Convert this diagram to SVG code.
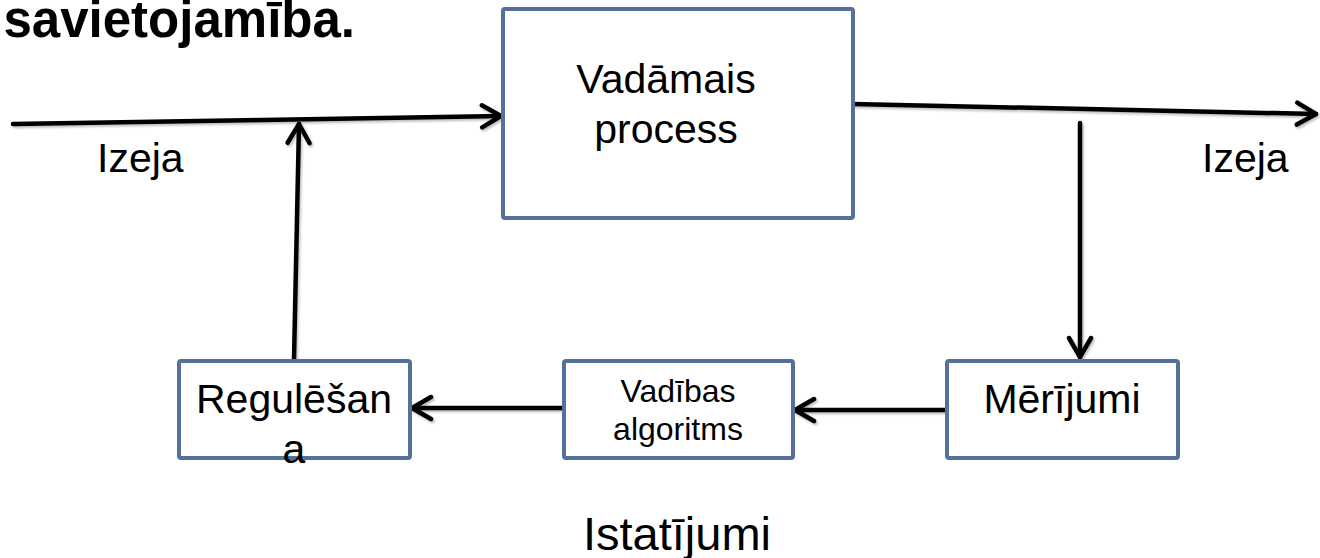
<svg xmlns="http://www.w3.org/2000/svg" width="1320" height="558" viewBox="0 0 1320 558">
<style>
.box{fill:#ffffff;stroke:#557199;stroke-width:4}
.t{font-family:"Liberation Sans",Arial,sans-serif;fill:#000}
.big{font-size:41px}
.small{font-size:32px}
.ln{stroke:#000;stroke-width:4.5;fill:none;stroke-linecap:round}
</style>
<defs>
<marker id="arr" markerUnits="userSpaceOnUse" viewBox="-24 -14 28 28" refX="0" refY="0" markerWidth="28" markerHeight="28" orient="auto">
<polyline points="-19,-11 0,0 -19,11" fill="none" stroke="#000" stroke-width="4.5" stroke-linecap="round" stroke-linejoin="round"/>
</marker>
<filter id="sh" x="-5%" y="-50%" width="110%" height="200%">
<feDropShadow dx="1.5" dy="2" stdDeviation="1.2" flood-color="#000" flood-opacity="0.25"/>
</filter>
</defs>
<rect width="1320" height="558" fill="#fff"/>
<text class="t" x="355" y="37" text-anchor="end" font-size="51" font-weight="bold">savietojamība.</text>
<g id="connectors" filter="url(#sh)">
<line class="ln" x1="13" y1="124" x2="501" y2="116" marker-end="url(#arr)"/>
<line class="ln" x1="294" y1="359" x2="299" y2="124" marker-end="url(#arr)"/>
<line class="ln" x1="853" y1="104" x2="1316" y2="114" marker-end="url(#arr)"/>
<line class="ln" x1="1080" y1="123" x2="1080" y2="357" marker-end="url(#arr)"/>
<line class="ln" x1="945" y1="410" x2="795" y2="410" marker-end="url(#arr)"/>
<line class="ln" x1="563" y1="408" x2="412" y2="408" marker-end="url(#arr)"/>
</g>
<g id="process">
<rect class="box" x="503" y="9" width="350" height="209" rx="2"/>
<text class="t big" x="666" y="93" text-anchor="middle">Vadāmais</text>
<text class="t big" x="666" y="143" text-anchor="middle">process</text>
</g>
<g id="regulesana">
<rect class="box" x="179" y="361" width="231" height="97" rx="2"/>
<text class="t big" x="294" y="413" text-anchor="middle">Regulēšan</text>
<text class="t big" x="294" y="463" text-anchor="middle">a</text>
</g>
<g id="algoritms">
<rect class="box" x="564" y="361" width="229" height="97" rx="2"/>
<text class="t small" x="678" y="402" text-anchor="middle">Vadības</text>
<text class="t small" x="678" y="440" text-anchor="middle">algoritms</text>
</g>
<g id="merijumi">
<rect class="box" x="947" y="361" width="231" height="97" rx="2"/>
<text class="t big" x="1062" y="413" text-anchor="middle">Mērījumi</text>
</g>
<text class="t big" x="97" y="172">Izeja</text>
<text class="t big" x="1202" y="172">Izeja</text>
<text class="t" x="677" y="550" text-anchor="middle" font-size="47">Istatījumi</text>
</svg>
